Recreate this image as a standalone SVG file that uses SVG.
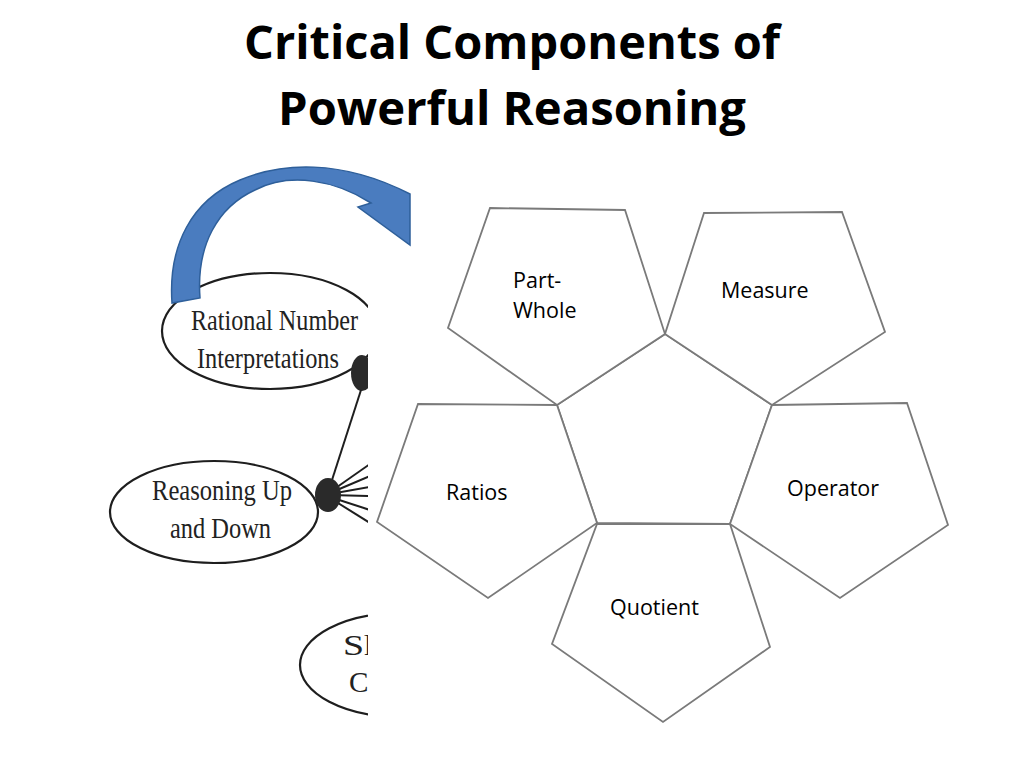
<svg xmlns="http://www.w3.org/2000/svg" width="1024" height="768" viewBox="0 0 1024 768">
<defs>
<style>
.title{font-family:"Open Sans","Liberation Sans",sans-serif;font-weight:700;font-size:47px;fill:#000;text-anchor:middle}
.pent{fill:#fff;stroke:#7a7a7a;stroke-width:1.8;stroke-linejoin:miter}
.lbl{font-family:"Open Sans","Liberation Sans",sans-serif;font-size:21.5px;fill:#000}
.ell{fill:#fff;stroke:#1e1e1e;stroke-width:2.2}
.etx{font-family:"Liberation Serif","Times New Roman",serif;font-size:30px;fill:#222}
.dot{fill:#2a2a2a}
.ln{stroke:#1e1e1e;stroke-width:2;fill:none}
.arrow{fill:#4a7cbf;stroke:#2e5f9a;stroke-width:1.5;stroke-linejoin:miter}
</style>
<clipPath id="leftClip"><rect x="0" y="0" width="368" height="768"/></clipPath>
</defs>
<rect width="1024" height="768" fill="#fff"/>

<g id="title">
<text class="title" x="512" y="59" textLength="536" lengthAdjust="spacingAndGlyphs">Critical Components of</text>
<text class="title" x="512" y="125" textLength="468" lengthAdjust="spacingAndGlyphs">Powerful Reasoning</text>
</g>

<g clip-path="url(#leftClip)">
<g id="node-rational">
<ellipse class="ell" cx="270" cy="331" rx="108" ry="58"/>
<text class="etx" x="191" y="330" textLength="167" lengthAdjust="spacingAndGlyphs">Rational Number</text>
<text class="etx" x="197" y="368" textLength="142" lengthAdjust="spacingAndGlyphs">Interpretations</text>
<ellipse class="dot" cx="362" cy="373" rx="11" ry="18"/>
</g>
<g id="node-reasoning">
<ellipse class="ell" cx="214" cy="512" rx="104" ry="51"/>
<text class="etx" x="152" y="500" textLength="140" lengthAdjust="spacingAndGlyphs">Reasoning Up</text>
<text class="etx" x="170" y="538" textLength="101" lengthAdjust="spacingAndGlyphs">and Down</text>
</g>
<g id="node-sh">
<ellipse class="ell" cx="400" cy="665" rx="100" ry="52"/>
<text class="etx" x="343" y="655" textLength="40" lengthAdjust="spacingAndGlyphs">Sh</text>
<text class="etx" x="349" y="692" textLength="34" lengthAdjust="spacingAndGlyphs">Co</text>
</g>
<g id="connectors-left">
<line class="ln" x1="361" y1="390" x2="332" y2="480"/>
<line class="ln" x1="330" y1="492" x2="370" y2="464"/>
<line class="ln" x1="330" y1="493" x2="370" y2="476"/>
<line class="ln" x1="330" y1="494" x2="370" y2="487"/>
<line class="ln" x1="330" y1="495" x2="370" y2="496"/>
<line class="ln" x1="330" y1="497" x2="370" y2="510"/>
<line class="ln" x1="330" y1="498" x2="370" y2="523"/>
<ellipse class="dot" cx="328" cy="495" rx="13" ry="17"/>
</g>
</g>

<g id="connectors">
<path class="arrow" d="M172,303 C168,245 192,200 240,180 C280,163 340,158 410,194 L410,245 L358,207 L371,203 C335,180 290,172 255,190 C218,207 196,245 200,298 Z"/>
</g>

<g id="node-center">
<polygon class="pent" points="557,405 665,334 772,405 730,524 597,523"/>
</g>
<g id="node-part-whole">
<polygon class="pent" points="490,208 625,210 665,334 557,405 448,328"/>
<text class="lbl" x="513" y="288">Part-</text>
<text class="lbl" x="513" y="318">Whole</text>
</g>
<g id="node-measure">
<polygon class="pent" points="704,213 842,212 885,332 772,405 665,334"/>
<text class="lbl" x="721" y="298">Measure</text>
</g>
<g id="node-ratios">
<polygon class="pent" points="418,404 557,405 597,523 488,598 377,522"/>
<text class="lbl" x="446" y="500">Ratios</text>
</g>
<g id="node-operator">
<polygon class="pent" points="772,405 907,403 948,525 840,598 730,524"/>
<text class="lbl" x="787" y="496">Operator</text>
</g>
<g id="node-quotient">
<polygon class="pent" points="597,524 730,524 770,647 663,722 552,644"/>
<text class="lbl" x="610" y="615">Quotient</text>
</g>
</svg>
